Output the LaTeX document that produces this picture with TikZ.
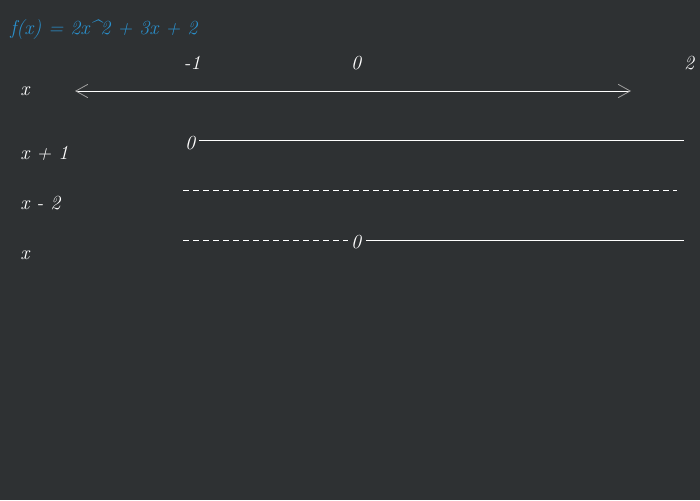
\documentclass[tikz,border=0pt]{standalone}
\usetikzlibrary{arrows.meta}
\definecolor{bg}{HTML}{2E3133}
\definecolor{ttl}{HTML}{2A90CC}
\definecolor{tipc}{HTML}{A0A0A0}
\begin{document}
\begin{tikzpicture}[x=0.75pt,y=-0.75pt,
  lbl/.style={font=\fontsize{15}{17}\selectfont\itshape, text=white, inner sep=0pt},
  ttlstyle/.style={font=\fontsize{15}{17}\selectfont\itshape, text=ttl, inner sep=0pt, anchor=west},
  solidln/.style={draw=white, line width=0.75pt},
  dashln/.style={draw=white, line width=0.75pt, dash pattern=on 4.5pt off 3pt}]
\fill[bg] (0,0) rectangle (700,500);
\useasboundingbox (0,0) rectangle (700,500);
\node[ttlstyle] (title) at (10,30) {f(x) = 2x\textasciicircum 2 + 3x + 2};
% axis values
\node[lbl] (vm1) at (192,63) {-1};
\node[lbl] (v0) at (356,63) {0};
\node[lbl] (v2) at (689,63) {2};
% row labels
\node[lbl, anchor=west] (r0) at (20,91) {x};
\node[lbl, anchor=west] (r1) at (20,153) {x + 1};
\node[lbl, anchor=west] (r2) at (20,203) {x - 2};
\node[lbl, anchor=west] (r3) at (20,255) {x};
% axis arrow
\coordinate (al) at (75,91);
\coordinate (ar) at (631,91);
\draw[draw=white, line width=0.75pt, {Straight Barb[length=9pt,width=10pt,color=tipc,line width=0.6pt]}-{Straight Barb[length=9pt,width=10pt,color=tipc,line width=0.6pt]}] (al) -- (ar);
% row x+1
\node[lbl] (z1) at (190,143) {0};
\coordinate (e1) at (684,140);
\draw[solidln] (199,140) -- (e1);
% row x-2
\coordinate (s2) at (183,190);
\coordinate (e2) at (677,190);
\draw[dashln] (s2) -- (e2);
% row x
\coordinate (s3) at (183,240);
\node[lbl] (z3) at (356,242) {0};
\coordinate (e3) at (684,240);
\draw[dashln] (s3) -- (348,240);
\draw[solidln] (366,240) -- (e3);
\end{tikzpicture}
\end{document}
